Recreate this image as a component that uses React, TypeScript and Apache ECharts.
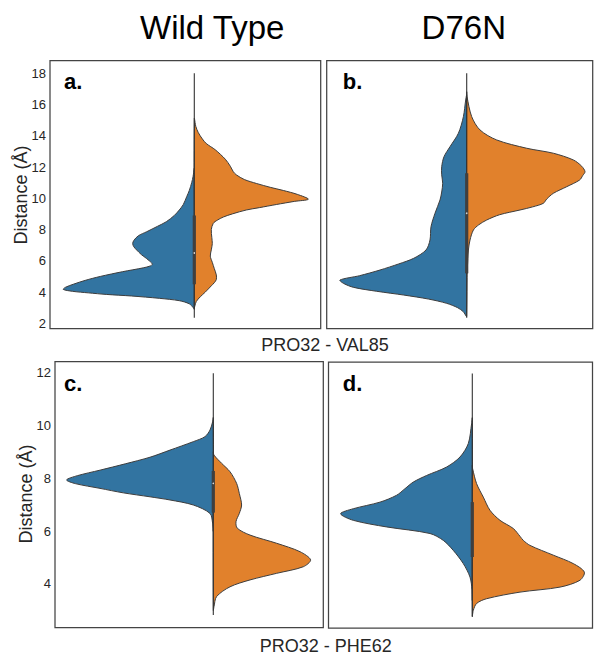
import React, { useEffect, useRef } from 'react';
import * as echarts from 'echarts';

const columnTitles = ['Wild Type', 'D76N'];
const rowLabels = ['PRO32 - VAL85', 'PRO32 - PHE62'];
const panelLetters = ['a.', 'b.', 'c.', 'd.'];
const yAxisTitle = 'Distance (Å)';
const yTicksTop = [2, 4, 6, 8, 10, 12, 14, 16, 18];
const yTicksBottom = [4, 6, 8, 10, 12];

// each entry: [distance (Å), half-width density]
const aBlue = [
  [11.9, 0], [11.4, 0.012], [11.0, 0.026], [10.5, 0.05], [10.1, 0.076], [9.6, 0.11], [9.25, 0.15],
  [8.9, 0.2], [8.5, 0.28], [8.2, 0.37], [7.86, 0.476], [7.6, 0.56], [7.3, 0.605], [7.1, 0.616],
  [6.9, 0.605], [6.69, 0.576], [6.4, 0.53], [6.16, 0.48], [6.0, 0.45], [5.87, 0.428], [5.77, 0.42],
  [5.67, 0.44], [5.55, 0.51], [5.3, 0.72], [5.0, 0.94], [4.75, 1.09], [4.5, 1.21], [4.3, 1.29], [4.17, 1.31],
  [4.05, 1.22], [3.95, 1.06], [3.85, 0.88], [3.75, 0.63], [3.6, 0.35], [3.45, 0.15], [3.25, 0.05],
  [3.0, 0.01], [2.9, 0],
];
const aOrange = [
  [15.1, 0], [14.6, 0.015], [14.2, 0.04], [13.8, 0.08], [13.5, 0.12], [13.1, 0.21], [12.5, 0.31],
  [12.05, 0.36], [11.7, 0.39], [11.5, 0.42], [11.2, 0.5], [10.95, 0.62], [10.7, 0.76], [10.5, 0.89],
  [10.25, 1.03], [9.94, 1.14], [9.8, 1.0], [9.6, 0.82], [9.4, 0.65], [9.25, 0.52], [9.0, 0.38],
  [8.8, 0.29], [8.6, 0.23], [8.4, 0.19], [8.0, 0.17], [7.5, 0.175], [7.1, 0.18], [6.7, 0.17],
  [6.3, 0.16], [5.9, 0.18], [5.5, 0.2], [5.1, 0.22], [4.8, 0.22], [4.6, 0.2], [4.4, 0.17],
  [4.0, 0.11], [3.7, 0.06], [3.4, 0.02], [3.1, 0.005], [3.0, 0],
];
const bBlue = [
  [16.6, 0], [16.29, 0.01], [15.22, 0.033], [14.16, 0.083], [13.3, 0.167], [12.66, 0.227],
  [12.02, 0.25], [11.5, 0.25], [10.96, 0.24], [10.4, 0.25], [9.89, 0.267], [9.04, 0.317],
  [8.18, 0.357], [7.33, 0.367], [6.69, 0.407], [6.16, 0.53], [5.8, 0.68], [5.41, 0.867],
  [5.05, 1.07], [4.77, 1.267], [4.55, 1.23], [4.3, 1.13], [4.05, 0.9], [3.81, 0.63], [3.55, 0.38],
  [3.28, 0.2], [3.0, 0.09], [2.74, 0.033], [2.45, 0],
];
const bOrange = [
  [16.8, 0], [16.5, 0.003], [15.22, 0.05], [14.37, 0.133], [13.73, 0.3], [13.2, 0.6], [12.88, 0.867],
  [12.45, 1.067], [12.05, 1.15], [11.7, 1.183], [11.45, 1.16], [11.17, 1.13], [10.74, 1.0],
  [10.32, 0.867], [9.95, 0.8], [9.68, 0.767], [9.45, 0.66], [9.25, 0.533], [8.95, 0.33], [8.61, 0.2],
  [8.3, 0.12], [7.97, 0.067], [7.33, 0.033], [6.69, 0.017], [5.62, 0.007], [5.2, 0],
];
const cBlue = [
  [10.3, 0], [10.14, 0.007], [9.83, 0.033], [9.58, 0.083], [9.39, 0.2], [9.07, 0.433], [8.8, 0.633],
  [8.55, 0.88], [8.31, 1.133], [8.1, 1.36], [7.94, 1.467], [7.8, 1.38], [7.62, 1.133], [7.45, 0.9],
  [7.3, 0.633], [7.18, 0.433], [6.99, 0.2], [6.67, 0.033], [6.3, 0.007], [6.0, 0],
];
const cOrange = [
  [9.0, 0], [8.88, 0.007], [8.57, 0.083], [8.25, 0.167], [7.81, 0.233], [7.43, 0.26], [6.99, 0.283],
  [6.67, 0.26], [6.36, 0.227], [6.11, 0.24], [5.85, 0.367], [5.54, 0.633], [5.22, 0.867],
  [4.91, 0.973], [4.65, 0.9], [4.4, 0.633], [4.15, 0.367], [3.89, 0.167], [3.52, 0.033],
  [3.14, 0.007], [3.0, 0],
];
const dBlue = [
  [10.3, 0], [10.08, 0.007], [9.33, 0.04], [8.82, 0.123], [8.44, 0.257], [8.12, 0.457], [7.87, 0.59],
  [7.62, 0.673], [7.37, 0.757], [7.11, 0.923], [6.86, 1.19], [6.67, 1.317], [6.42, 1.19],
  [6.17, 0.857], [5.92, 0.423], [5.66, 0.29], [5.28, 0.19], [4.78, 0.09], [4.27, 0.023],
  [3.8, 0.003], [3.4, 0],
];
const dOrange = [
  [8.5, 0], [8.38, 0.003], [7.81, 0.043], [7.3, 0.11], [6.8, 0.177], [6.42, 0.277], [6.11, 0.41],
  [5.8, 0.48], [5.66, 0.51], [5.47, 0.577], [5.1, 0.81], [4.78, 1.01], [4.46, 1.12], [4.15, 1.077],
  [3.89, 0.877], [3.7, 0.477], [3.45, 0.143], [3.27, 0.043], [3.01, 0.01], [2.8, 0],
];

// inner box: [whisker low, q1, median, q3, whisker high]
const boxA = [2.35, 4.5, 6.5, 8.9, 18.0];
const boxB = [2.35, 5.2, 9.04, 11.6, 18.0];
const boxC = [2.82, 6.7, 7.81, 8.28, 11.98];
const boxD = [2.76, 5.03, 6.33, 7.11, 11.98];

const BLUE = '#3274A1';
const ORANGE = '#E1812C';
const EDGE = '#3d3d3d';
const FONT = '"Liberation Sans", Arial, sans-serif';

const panels = [
  { blue: aBlue, orange: aOrange, box: boxA, grid: { left: 50, top: 60.7, width: 270.7, height: 267.8 }, x: [-1.443, 1.264], y: [1.67, 18.8], ticks: yTicksTop, showLabels: true },
  { blue: bBlue, orange: bOrange, box: boxB, grid: { left: 326.7, top: 60.7, width: 266, height: 267.8 }, x: [-1.4, 1.26], y: [1.67, 18.8], ticks: yTicksTop, showLabels: false },
  { blue: cBlue, orange: cOrange, box: boxC, grid: { left: 55, top: 361.7, width: 268.3, height: 266 }, x: [-1.583, 1.1], y: [2.34, 12.42], ticks: yTicksBottom, showLabels: true },
  { blue: dBlue, orange: dOrange, box: boxD, grid: { left: 328.5, top: 362, width: 264, height: 266 }, x: [-1.438, 1.202], y: [2.34, 12.42], ticks: yTicksBottom, showLabels: false },
];

function halfSeries(idx: number, pts: number[][], side: number, color: string) {
  return {
    type: 'custom',
    xAxisIndex: idx,
    yAxisIndex: idx,
    silent: true,
    data: pts.map(([y, w]) => [side * w, y]),
    renderItem: (params: any, api: any) => {
      if (params.dataIndex !== 0) return null;
      const points = pts.map(([y, w]) => api.coord([side * w, y]));
      return {
        type: 'polygon',
        shape: { points, smooth: 0.3 },
        style: { fill: color, stroke: EDGE, lineWidth: 1 },
      };
    },
  };
}

function boxSeries(idx: number, box: number[]) {
  return {
    type: 'custom',
    xAxisIndex: idx,
    yAxisIndex: idx,
    silent: true,
    z: 5,
    data: [[0, ...box]],
    renderItem: (params: any, api: any) => {
      const lo = api.coord([0, api.value(1)]);
      const q1 = api.coord([0, api.value(2)]);
      const med = api.coord([0, api.value(3)]);
      const q3 = api.coord([0, api.value(4)]);
      const hi = api.coord([0, api.value(5)]);
      return {
        type: 'group',
        children: [
          { type: 'line', shape: { x1: lo[0], y1: lo[1], x2: hi[0], y2: hi[1] }, style: { stroke: '#333333', lineWidth: 1.1 } },
          { type: 'rect', shape: { x: q3[0] - 1.6, y: q3[1], width: 3.2, height: q1[1] - q3[1] }, style: { fill: '#3f3f3f' } },
          { type: 'circle', shape: { cx: med[0], cy: med[1], r: 0.8 }, style: { fill: '#d8d8d8' } },
        ],
      };
    },
  };
}

export default function App() {
  const ref = useRef<HTMLDivElement>(null);
  useEffect(() => {
    if (!ref.current) return;
    const chart = echarts.init(ref.current, null, { renderer: 'svg' });
    const grid = panels.map((p) => ({
      ...p.grid,
      show: true,
      borderColor: '#444444',
      borderWidth: 1.25,
      backgroundColor: '#ffffff',
      containLabel: false,
    }));
    const xAxis = panels.map((p, i) => ({
      type: 'value',
      gridIndex: i,
      min: p.x[0],
      max: p.x[1],
      show: false,
    }));
    const yAxis = panels.map((p, i) => ({
      type: 'value',
      gridIndex: i,
      min: p.y[0],
      max: p.y[1],
      axisLine: { show: false },
      axisTick: { show: false },
      splitLine: { show: false },
      axisLabel: {
        show: p.showLabels,
        customValues: p.ticks,
        fontSize: 13,
        color: '#262626',
        fontFamily: FONT,
        margin: 4,
      },
    }));
    const series: any[] = [];
    panels.forEach((p, i) => {
      series.push(halfSeries(i, p.blue, -1, BLUE));
      series.push(halfSeries(i, p.orange, 1, ORANGE));
      series.push(boxSeries(i, p.box));
    });
    const txt = (text: string, x: number, y: number, size: number, opts: any = {}) => ({
      type: 'text',
      x,
      y,
      z: 10,
      rotation: opts.rotation || 0,
      style: {
        text,
        fontSize: size,
        fontFamily: FONT,
        fontWeight: opts.bold ? 'bold' : 'normal',
        fill: opts.color || '#000000',
        textAlign: opts.align || 'center',
        textVerticalAlign: 'middle',
      },
    });
    const graphic = [
      txt(columnTitles[0], 212.2, 27.9, 33),
      txt(columnTitles[1], 463.8, 27.9, 33),
      txt(rowLabels[0], 325, 344.5, 18, { color: '#262626' }),
      txt(rowLabels[1], 325.8, 645.8, 18, { color: '#262626' }),
      txt(panelLetters[0], 64, 81.7, 22, { bold: true, align: 'left' }),
      txt(panelLetters[1], 342.7, 81.4, 22, { bold: true, align: 'left' }),
      txt(panelLetters[2], 64, 383.1, 22, { bold: true, align: 'left' }),
      txt(panelLetters[3], 342.7, 383.1, 22, { bold: true, align: 'left' }),
      txt(yAxisTitle, 21, 195, 18, { rotation: Math.PI / 2, color: '#262626' }),
      txt(yAxisTitle, 26, 494, 18, { rotation: Math.PI / 2, color: '#262626' }),
    ];
    chart.setOption({
      animation: false,
      backgroundColor: '#ffffff',
      grid,
      xAxis,
      yAxis,
      series,
      graphic,
    });
    return () => chart.dispose();
  }, []);
  return (
    <div
      ref={ref}
      style={{ position: 'absolute', left: 0, top: 0, width: 595, height: 656 }}
    />
  );
}
